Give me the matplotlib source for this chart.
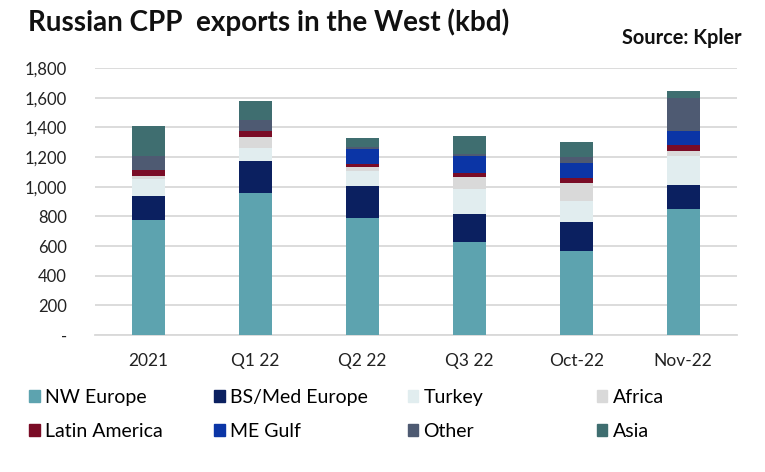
import matplotlib
matplotlib.use("Agg")
import matplotlib.pyplot as plt
from matplotlib.patches import Patch
import numpy as np

categories = ["2021", "Q1 22", "Q2 22", "Q3 22", "Oct-22", "Nov-22"]
series_names = ["NW Europe", "BS/Med Europe", "Turkey", "Africa",
                "Latin America", "ME Gulf", "Other", "Asia"]
nw_europe = [776, 955, 792, 626, 568, 852]
bs_med_europe = [164, 219, 212, 191, 195, 157]
turkey = [109, 90, 103, 165, 143, 197]
africa = [23, 72, 27, 81, 116, 33]
latin_america = [40, 40, 18, 31, 34, 43]
me_gulf = [0, 0, 105, 112, 107, 94]
other = [98, 71, 11, 13, 34, 224]
asia = [197, 128, 61, 121, 103, 42]
yticks = [0, 200, 400, 600, 800, 1000, 1200, 1400, 1600, 1800]
ytick_labels = ["-", "200", "400", "600", "800", "1,000", "1,200", "1,400", "1,600", "1,800"]

colors = ["#5DA3AF", "#0B2060", "#E1EDEF", "#D9D9D9",
          "#7A0C26", "#0B35A6", "#4E5A72", "#3F6E70"]
data = [nw_europe, bs_med_europe, turkey, africa, latin_america, me_gulf, other, asia]

plt.rcParams['font.family'] = ['Lato', 'DejaVu Sans']

fig = plt.figure(figsize=(7.65, 4.72), dpi=100)
ax = fig.add_axes([0.124, 0.290, 0.839, 0.566])

x = np.arange(len(categories))
bottom = np.zeros(len(categories))
for name, vals, c in zip(series_names, data, colors):
    v = np.array(vals, dtype=float)
    ax.bar(x, v, bottom=bottom, width=0.31, color=c, label=name, zorder=3)
    bottom += v

ax.set_xlim(-0.5, len(categories) - 0.5)
ax.set_ylim(0, 1800)
ax.set_yticks(yticks)
ax.set_yticklabels(ytick_labels)
ax.set_xticks(x)
ax.set_xticklabels(categories)
ax.tick_params(axis='both', length=0, colors="#222222")
ax.tick_params(axis='y', pad=20, labelsize=12)
ax.tick_params(axis='x', pad=13, labelsize=12.5)
ax.grid(axis='y', color="#D9D9D9", linewidth=1.3, zorder=0)
for s in ["top", "right", "left"]:
    ax.spines[s].set_visible(False)
ax.spines["bottom"].set_color("#D9D9D9")
ax.spines["bottom"].set_linewidth(1.3)

fig.text(0.036, 0.953, "Russian CPP  exports in the West (kbd)", fontsize=20,
         fontweight='bold', ha='left', va='center', color="#111111")
fig.text(0.969, 0.919, "Source: Kpler", fontsize=14.4, fontweight='bold',
         ha='right', va='center', color="#111111")

col_x = [0.038, 0.280, 0.533, 0.780]
for i in range(4):
    handles = [Patch(color=colors[i]), Patch(color=colors[i + 4])]
    labels = [series_names[i], series_names[i + 4]]
    fig.legend(handles, labels, loc='upper left', bbox_to_anchor=(col_x[i], 0.176),
               frameon=False, fontsize=14, handlelength=0.55, handleheight=0.55,
               handletextpad=0.26, labelspacing=0.86, borderaxespad=0, borderpad=0)

fig.savefig("out.png", dpi=100)
